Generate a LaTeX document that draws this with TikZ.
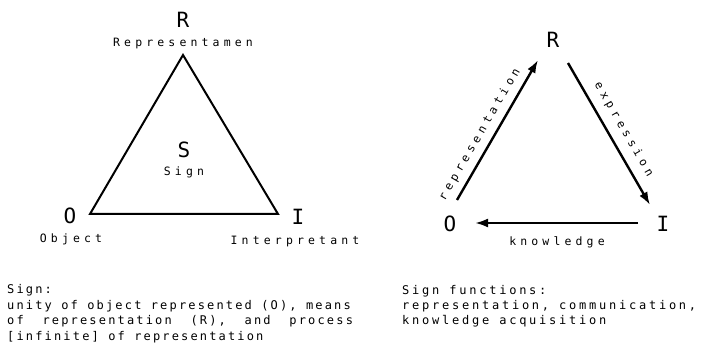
\documentclass[tikz,border=0pt]{standalone}
\usepackage{fontspec}
\setmonofont{DejaVu Sans Mono}
\newfontfamily\bigf{DejaVu Sans Mono}
\newfontfamily\labf[LetterSpace=36]{DejaVu Sans Mono}
\newfontfamily\txtf[LetterSpace=18]{DejaVu Sans Mono}
\newfontfamily\txtg[LetterSpace=23]{DejaVu Sans Mono}
\usetikzlibrary{arrows.meta}
\begin{document}
\begin{tikzpicture}[x=1pt,y=-1pt,
  big/.style={inner sep=0pt,anchor=base,font=\bigf\fontsize{21}{21}\selectfont},
  lab/.style={inner sep=0pt,anchor=base,font=\labf\fontsize{11.5}{11.5}\selectfont},
  txt/.style={inner sep=0pt,anchor=base west,font=\txtf\fontsize{12}{12}\selectfont},
  txtr/.style={inner sep=0pt,anchor=base west,font=\txtg\fontsize{12}{12}\selectfont},
  tri/.style={line width=2pt,line join=miter},
  arr/.style={line width=2.4pt,-{Latex[length=13pt,width=9pt]}}]
\useasboundingbox (0,0) rectangle (702,350);
% left triangle
\coordinate (vR) at (183,55);
\coordinate (vO) at (90,214);
\coordinate (vI) at (278,214);
\draw[tri] (vR) -- (vI) -- (vO) -- cycle;
\node[big] (R1) at (183,28) {R};
\node[lab] (R1l) at (183,47) {Representamen};
\node[big] (S1) at (184,158) {S};
\node[lab] (S1l) at (184,176) {Sign};
\node[big] (O1) at (70,223) {O};
\node[lab] (O1l) at (71,243) {Object};
\node[big] (I1) at (298,224) {I};
\node[lab] (I1l) at (295,244) {Interpretant};
% right triangle
\node[big] (R2) at (553,48) {R};
\node[big] (O2) at (450,232) {O};
\node[big] (I2) at (663,232) {I};
\coordinate (aRs) at (457,200);
\coordinate (aRe) at (538,60);
\coordinate (aEs) at (568,63);
\coordinate (aEe) at (650,205);
\coordinate (aKs) at (638,223);
\coordinate (aKe) at (475,223);
\draw[arr] (aRs) -- node[lab,anchor=center,sloped,pos=0.42,yshift=13pt] (lr) {representation} (aRe);
\draw[arr] (aEs) -- node[lab,anchor=center,sloped,pos=0.52,yshift=15pt] (le) {expression} (aEe);
\draw[arr] (aKs) -- (aKe);
\node[lab] (lk) at (557,245) {knowledge};
% texts
\node[txt] (t1) at (7,293) {Sign:};
\node[txt] (t2) at (7,309) {unity of object represented (O), means};
\node[txt] (t3) at (7,324) {of\ \ representation\ \ (R),\ \ and\ \ process};
\node[txt] (t4) at (7,340) {[infinite] of representation};
\node[txtr] (u1) at (402,294) {Sign functions:};
\node[txtr] (u2) at (402,309) {representation, communication,};
\node[txtr] (u3) at (402,324) {knowledge acquisition};
\end{tikzpicture}
\end{document}
